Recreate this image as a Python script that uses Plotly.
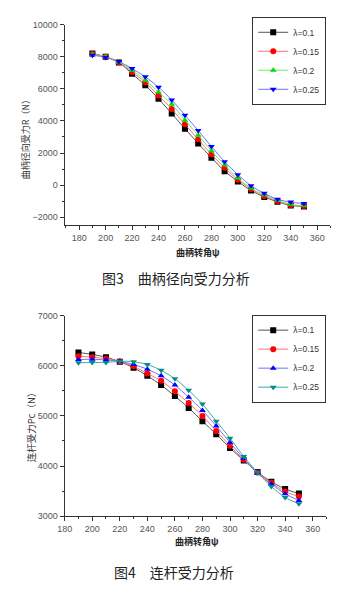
import plotly.graph_objects as go

angles = [190, 200, 210, 220, 230, 240, 250, 260, 270, 280, 290, 300, 310, 320, 330, 340, 350]
lambda_labels = ["λ=0.1", "λ=0.15", "λ=0.2", "λ=0.25"]

# Fig 3: crank radial force R (N)
R_01 = [8200, 8000, 7640, 6940, 6220, 5380, 4460, 3510, 2600, 1710, 870, 230, -340, -740, -1040, -1270, -1330]
R_015 = [8170, 8000, 7660, 7050, 6410, 5590, 4740, 3790, 2860, 1920, 1080, 340, -250, -680, -990, -1240, -1310]
R_02 = [8140, 8000, 7680, 7150, 6540, 5800, 5040, 4040, 3110, 2140, 1250, 440, -190, -610, -950, -1200, -1280]
R_025 = [8100, 7960, 7700, 7260, 6750, 6100, 5310, 4360, 3400, 2410, 1460, 650, -40, -510, -890, -1060, -1150]

# Fig 4: connecting rod force Pc (N)
P_01 = [6265, 6227, 6170, 6080, 5960, 5800, 5615, 5395, 5157, 4895, 4634, 4360, 4110, 3880, 3686, 3543, 3450]
P_015 = [6190, 6170, 6140, 6085, 5990, 5845, 5700, 5490, 5255, 5000, 4700, 4405, 4125, 3870, 3667, 3490, 3392]
P_02 = [6124, 6130, 6115, 6088, 6025, 5930, 5800, 5615, 5373, 5110, 4797, 4470, 4150, 3855, 3640, 3445, 3314]
P_025 = [6059, 6065, 6065, 6090, 6080, 6025, 5910, 5740, 5510, 5235, 4895, 4555, 4190, 3870, 3590, 3372, 3250]

symbols = ["square", "circle", "triangle-up", "triangle-down"]
top_marker_colors = ["#000000", "#ff0000", "#00dd00", "#0000ff"]
top_line_colors = ["#555555", "#ff7070", "#70ee70", "#7070ff"]
bot_marker_colors = ["#000000", "#ff0000", "#0000ff", "#008b8b"]
bot_line_colors = ["#555555", "#ff7070", "#7070ff", "#40a8a8"]

W, H = 346, 589
fig = go.Figure()

for i, ys in enumerate([R_01, R_015, R_02, R_025]):
    fig.add_trace(go.Scatter(
        x=angles, y=ys, mode="lines+markers", name=lambda_labels[i],
        line=dict(color=top_line_colors[i], width=1, shape="spline", smoothing=0.8),
        marker=dict(symbol=symbols[i], size=6, color=top_marker_colors[i]),
        xaxis="x", yaxis="y", legend="legend"))

for i, ys in enumerate([P_01, P_015, P_02, P_025]):
    fig.add_trace(go.Scatter(
        x=angles, y=ys, mode="lines+markers", name=lambda_labels[i],
        line=dict(color=bot_line_colors[i], width=1, shape="spline", smoothing=0.8),
        marker=dict(symbol=symbols[i], size=6, color=bot_marker_colors[i]),
        xaxis="x2", yaxis="y2", legend="legend2"))

def px_x(p):
    return p / W

def px_y(p):
    return 1 - p / H

tickfont = dict(family="Liberation Sans, Arial, sans-serif", size=9, color="#555555")
axis_common = dict(showgrid=False, zeroline=False, showline=True, linecolor="#333333",
                   linewidth=1, ticks="outside", ticklen=4, tickcolor="#333333",
                   tickfont=tickfont, tickformat="d")

legend_font = dict(family="Liberation Sans, Arial, sans-serif", size=8.5, color="#333333")

fig.update_layout(
    width=W, height=H,
    margin=dict(l=0, r=0, t=0, b=0),
    paper_bgcolor="white", plot_bgcolor="white",
    xaxis=dict(domain=[px_x(58), px_x(330)], range=[169, 370], dtick=20, tick0=180,
               anchor="y", minor=dict(ticks="outside", ticklen=2, dtick=10, tickcolor="#333333"),
               **axis_common),
    yaxis=dict(domain=[px_y(224), px_y(20)], range=[-2500, 10000], dtick=2000,
               anchor="x", minor=dict(ticks="outside", ticklen=2, dtick=1000, tickcolor="#333333"),
               **axis_common),
    xaxis2=dict(domain=[px_x(58), px_x(326)], range=[180, 370], dtick=20, tick0=180,
                anchor="y2", minor=dict(ticks="outside", ticklen=2, dtick=10, tickcolor="#333333"),
                **axis_common),
    yaxis2=dict(domain=[px_y(520), px_y(316)], range=[3000, 7000], dtick=1000,
                anchor="x2", minor=dict(ticks="outside", ticklen=2, dtick=500, tickcolor="#333333"),
                **axis_common),
    legend=dict(x=px_x(250), y=px_y(12), xanchor="left", yanchor="top",
                bordercolor="#333333", borderwidth=1, bgcolor="white",
                font=legend_font, tracegroupgap=0, itemwidth=30),
    legend2=dict(x=px_x(250), y=px_y(315), xanchor="left", yanchor="top",
                 bordercolor="#333333", borderwidth=1, bgcolor="white",
                 font=legend_font, tracegroupgap=0, itemwidth=30),
    showlegend=True,
)

cjk = "Noto Sans CJK SC, sans-serif"
annotations = [
    dict(text="曲柄径向受力R（N）", x=px_x(18), y=px_y(135), textangle=-90,
         font=dict(family=cjk, size=9, color="#333333")),
    dict(text="<b>曲柄转角ψ</b>", x=px_x(195), y=px_y(252),
         font=dict(family=cjk, size=9, color="#222222")),
    dict(text="图3　曲柄径向受力分析", x=px_x(172), y=px_y(278),
         font=dict(family=cjk, size=14, color="#222222")),
    dict(text="连杆受力Pc（N）", x=px_x(23), y=px_y(427), textangle=-90,
         font=dict(family=cjk, size=9.5, color="#333333")),
    dict(text="<b>曲柄转角ψ</b>", x=px_x(193), y=px_y(546),
         font=dict(family=cjk, size=9, color="#222222")),
    dict(text="图4　连杆受力分析", x=px_x(170), y=px_y(577),
         font=dict(family=cjk, size=14, color="#222222")),
]
for a in annotations:
    a.update(xref="paper", yref="paper", showarrow=False, xanchor="center", yanchor="middle")
fig.update_layout(annotations=annotations)

fig.write_html("out.html")
